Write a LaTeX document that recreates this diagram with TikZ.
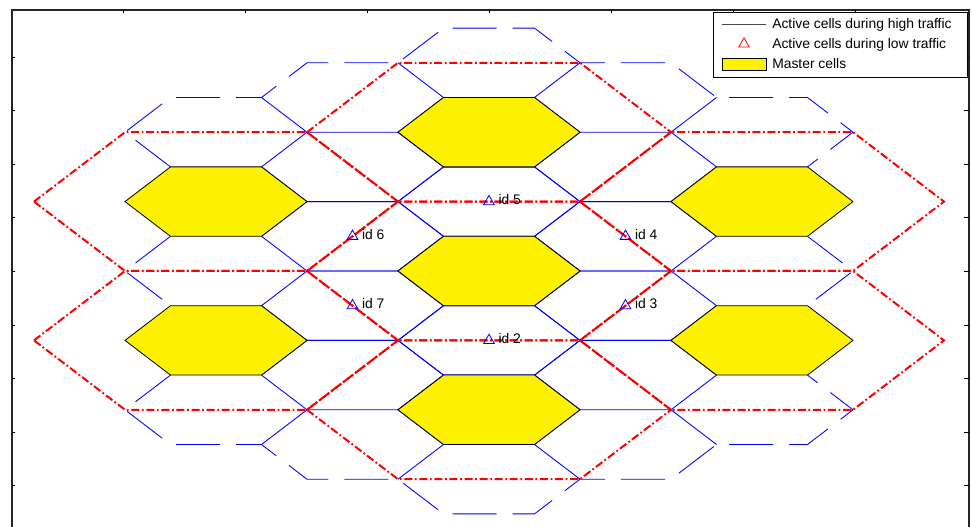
\documentclass[tikz,border=0pt]{standalone}
\usepackage{fontspec}
\setmainfont{Liberation Sans}
\usetikzlibrary{shapes.geometric}
\begin{document}
\begin{tikzpicture}[x=0.75pt,y=-0.75pt,
  cell/.style={draw=blue,line width=0.65pt},
  celldash/.style={draw=blue,line width=0.65pt,dash pattern=on 33pt off 12pt},
  master/.style={fill=yellow,draw=black,line width=0.6pt},
  cluster/.style={draw=red,line width=1.5pt,dash pattern=on 6pt off 2pt on 1.3pt off 2pt},
  mk/.style={regular polygon,regular polygon sides=3,draw=blue,line width=0.6pt,inner sep=0pt,minimum size=9.3pt},
  lbl/.style={anchor=base west,font=\fontsize{10.4}{12}\selectfont,inner sep=0pt},
  axisline/.style={draw=black!85,line width=1.1pt}]
\useasboundingbox (0,0) rectangle (972,527);
\fill[white] (0,0) rectangle (972,527);

\begin{scope}[xshift=366.75pt,yshift=-203.25pt,x=34.125pt,y=26.025pt]
% interior cells (all edges shared)
\foreach \cx/\ck in {0/0,0/2,0/-2,0/4,0/-4,-3/1,-3/-1,3/1,3/-1,-3/3,-3/-3,3/3,3/-3}{
  \draw[cell] ({\cx-2},\ck) -- ++(1,1) -- ++(2,0) -- ++(1,-1) -- ++(-1,-1) -- ++(-2,0) -- cycle;
}
% remaining shared edges of border cells
\draw[cell] (-2,6) -- (-1,5) (2,6) -- (1,5) (-5,5) -- (-4,4) (5,5) -- (4,4)
            (-2,-6) -- (-1,-5) (2,-6) -- (1,-5) (-5,-5) -- (-4,-4) (5,-5) -- (4,-4);
% outer (unshared) edges, dashed
\draw[celldash] (-7,3) -- (-8,4) -- (-7,5) -- (-5,5) -- (-4,6) -- (-2,6) -- (-1,7) -- (1,7)
  -- (2,6) -- (4,6) -- (5,5) -- (7,5) -- (8,4) -- (7,3);
\draw[celldash] (-7,-3) -- (-8,-4) -- (-7,-5) -- (-5,-5) -- (-4,-6) -- (-2,-6) -- (-1,-7) -- (1,-7)
  -- (2,-6) -- (4,-6) -- (5,-5) -- (7,-5) -- (8,-4) -- (7,-3);
\draw[celldash] (-7,1) -- (-8,0) -- (-7,-1);
\draw[celldash] (7,1) -- (8,0) -- (7,-1);

% master cells
\foreach \cx/\ck in {0/0,0/4,0/-4,-6/2,-6/-2,6/2,6/-2}{
  \draw[master] ({\cx-2},\ck) -- ++(1,1) -- ++(2,0) -- ++(1,-1) -- ++(-1,-1) -- ++(-2,0) -- cycle;
}
% clusters
\foreach \cx/\ck in {0/0,0/4,0/-4,-6/2,-6/-2,6/2,6/-2}{
  \draw[cluster] ({\cx-4},\ck) -- ++(2,2) -- ++(4,0) -- ++(2,-2) -- ++(-2,-2) -- ++(-4,0) -- cycle;
}

% markers and labels
\foreach \nm/\cx/\ck in {5/0/2,6/-3/1,4/3/1,7/-3/-1,3/3/-1,2/0/-2}{
  \node[mk] (m\nm) at (\cx,\ck) {};
  \node[lbl,xshift=7pt,yshift=-2.25pt] (t\nm) at (\cx,\ck) {id \nm};
}
\end{scope}

% axes
\draw[axisline] (12,530) -- (12,10) -- (969,10) -- (969,530);
\foreach \ty in {57,110.6,164.2,217.8,271.4,325,378.6,432.2,485.8}{
  \draw[black,line width=0.6pt] (12,\ty) -- (15,\ty);
  \draw[black,line width=0.6pt] (969,\ty) -- (964,\ty);
}
\foreach \tx in {123,245,367,489,611,733,855}{
  \draw[black,line width=0.6pt] (\tx,10) -- (\tx,13);
}

% legend
\draw[fill=white,draw=black,line width=0.7pt] (713,12.3) rectangle (967,77.3);
\draw[draw=black!70,line width=0.6pt] (722,24) -- (766,24);
\node[mk,draw=red] (lgm) at (744,44) {};
\draw[fill=yellow,draw=black,line width=0.6pt] (722,58.3) rectangle (766,70.7);
\node[lbl] (lg1) at (772,29) {Active cells during high traffic};
\node[lbl] (lg2) at (772,49) {Active cells during low traffic};
\node[lbl] (lg3) at (772,68.5) {Master cells};
\end{tikzpicture}
\end{document}
